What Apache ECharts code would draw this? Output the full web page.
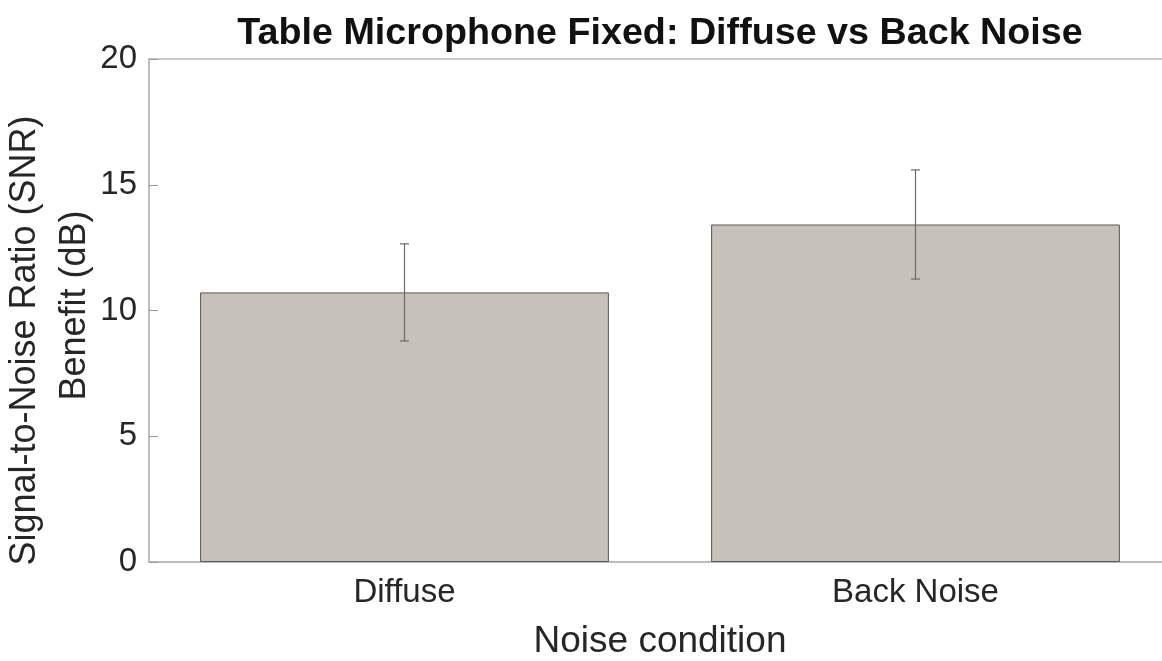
<!DOCTYPE html>
<html>
<head>
<meta charset="utf-8">
<script src="https://cdn.jsdelivr.net/npm/echarts@6/dist/echarts.min.js"></script>
<style>
  html, body { margin: 0; padding: 0; background: #fff; }
  #main { width: 1162px; height: 661px; }
</style>
</head>
<body>
<div id="main"></div>
<script>
// noise conditions
var categories = ['Diffuse', 'Back Noise'];
// mean SNR benefit (dB)
var means = [10.72, 13.42];
// error (+/-)
var errors = [1.93, 2.17];
var yTicks = [0, 5, 10, 15, 20];

var font = "'Liberation Sans', Arial, Helvetica, sans-serif";
var textColor = '#262626';
var axisColor = '#b8b8b8';

var chart = echarts.init(document.getElementById('main'));

var errData = means.map(function (m, i) {
  return [i, m - errors[i], m + errors[i]];
});

var option = {
  animation: false,
  title: {
    text: 'Table Microphone Fixed: Diffuse vs Back Noise',
    left: 655,
    textAlign: 'center',
    top: 10,
    textStyle: { fontFamily: font, fontSize: 37.7, fontWeight: 'bold', color: '#111' }
  },
  grid: {
    left: 149,
    top: 59,
    width: 1022,
    height: 503,
    containLabel: false,
    outerBoundsMode: 'none',
    show: true,
    borderColor: axisColor,
    borderWidth: 1.5,
    backgroundColor: 'transparent'
  },
  xAxis: {
    type: 'category',
    data: categories,
    boundaryGap: true,
    axisLine: { show: true, lineStyle: { color: axisColor, width: 1.5 } },
    axisTick: { show: true, inside: true, alignWithLabel: true, length: 7, lineStyle: { color: '#888' } },
    axisLabel: { fontFamily: font, fontSize: 33, color: textColor, margin: 14 },
    name: 'Noise condition',
    nameLocation: 'middle',
    nameGap: 61,
    nameMoveOverlap: false,
    nameTextStyle: { fontFamily: font, fontSize: 37, color: textColor }
  },
  yAxis: [{
    type: 'value',
    min: yTicks[0],
    max: yTicks[yTicks.length - 1],
    interval: 5,
    splitLine: { show: false },
    axisLine: { show: true, lineStyle: { color: axisColor, width: 1.5 } },
    axisTick: { show: true, inside: true, length: 9, lineStyle: { color: '#999' } },
    axisLabel: { fontFamily: font, fontSize: 33, color: textColor, margin: 12 },
    name: 'Signal-to-Noise Ratio (SNR)      \n Benefit (dB)',
    nameLocation: 'middle',
    nameRotate: 90,
    nameGap: 49,
    nameMoveOverlap: false,
    nameTextStyle: { fontFamily: font, fontSize: 36, color: textColor, lineHeight: 50, align: 'center' }
  }, {
    type: 'value',
    position: 'right',
    min: yTicks[0],
    max: yTicks[yTicks.length - 1],
    interval: 5,
    splitLine: { show: false },
    axisLine: { show: false },
    axisTick: { show: true, inside: true, length: 9, lineStyle: { color: '#999' } },
    axisLabel: { show: false }
  }],
  series: [{
    type: 'bar',
    data: means,
    barWidth: '80%',
    itemStyle: { color: '#c8c1ba', borderColor: '#5a5a5a', borderWidth: 1 },
    z: 2
  }, {
    type: 'custom',
    data: errData,
    z: 5,
    renderItem: function (params, api) {
      var x = api.value(0);
      var lo = api.coord([x, api.value(1)]);
      var hi = api.coord([x, api.value(2)]);
      var cap = 4.5;
      var style = { stroke: '#6a6a6a', lineWidth: 1.2 };
      return {
        type: 'group',
        children: [
          { type: 'line', shape: { x1: lo[0], y1: lo[1], x2: hi[0], y2: hi[1] }, style: style },
          { type: 'line', shape: { x1: lo[0] - cap, y1: lo[1], x2: lo[0] + cap, y2: lo[1] }, style: style },
          { type: 'line', shape: { x1: hi[0] - cap, y1: hi[1], x2: hi[0] + cap, y2: hi[1] }, style: style }
        ]
      };
    }
  }]
};

chart.setOption(option);
</script>
</body>
</html>
